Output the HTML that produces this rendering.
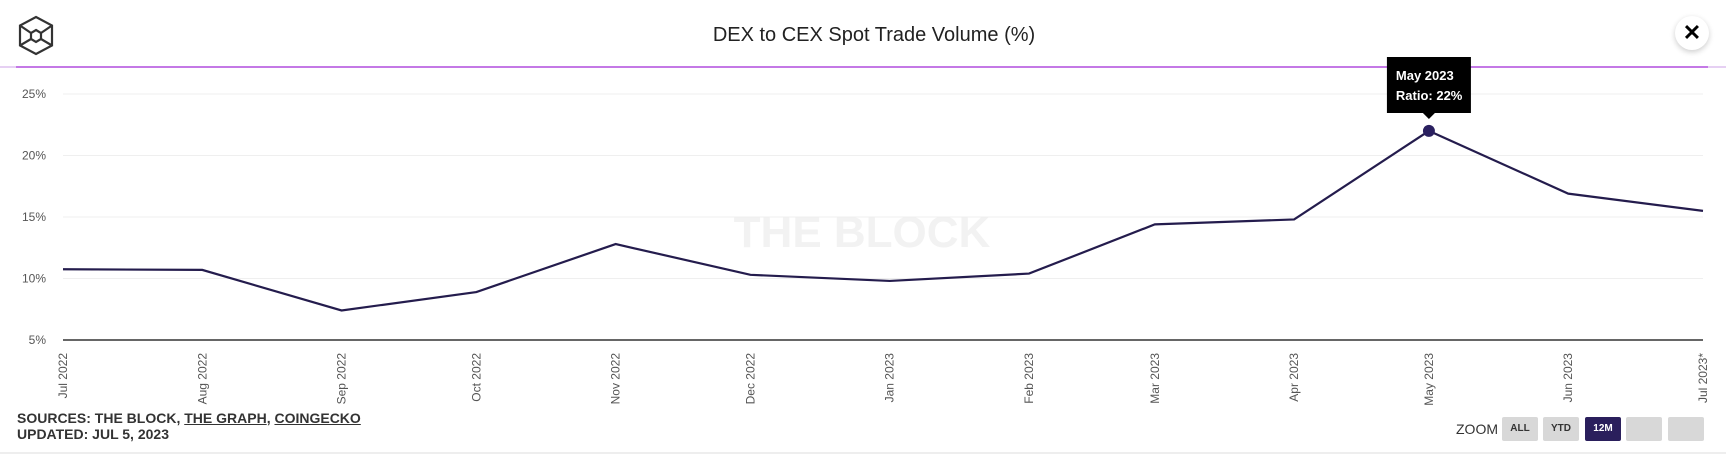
<!DOCTYPE html>
<html><head><meta charset="utf-8">
<style>
body{margin:0;width:1726px;height:455px;background:#fff;overflow:hidden;font-family:"Liberation Sans",Arial,sans-serif;position:relative}
.abs{position:absolute}
.btn{position:absolute;top:417px;width:36px;height:24px;background:#d8d8d8;border-radius:2px;font-size:10px;font-weight:bold;color:#333;text-align:center;line-height:24px}
</style></head><body>
<svg class="abs" style="left:14px;top:14px" width="44" height="44" viewBox="0 0 44 44">
<g fill="none" stroke="#333" stroke-width="2.2">
<polygon points="22,3 38,11.5 38,31.5 22,40 6,31.5 6,11.5"/>
<polygon points="22,16 27,19 27,25 22,28 17,25 17,19"/>
<line x1="6" y1="11.5" x2="17" y2="19"/><line x1="38" y1="11.5" x2="27" y2="19"/>
<line x1="6" y1="31.5" x2="17" y2="25"/><line x1="38" y1="31.5" x2="27" y2="25"/>
</g></svg>
<div class="abs" style="left:0;width:1748px;top:24px;text-align:center;font-size:20px;color:#222">DEX to CEX Spot Trade Volume (%)</div>
<div class="abs" style="left:1675px;top:16px;width:34px;height:34px;border-radius:50%;background:#fff;box-shadow:0 2px 6px rgba(0,0,0,.2);text-align:center;line-height:34px;font-size:22px;font-weight:bold;color:#000">✕</div>
<div class="abs" style="left:0;top:66px;width:1726px;height:2px;background:#e6d0f3"></div>
<div class="abs" style="left:16px;top:66px;width:1692px;height:2px;background:#c479e6"></div>
<svg id="chart" class="abs" style="left:0;top:0" width="1726" height="455"></svg>
<div class="abs" style="left:17px;top:410px;font-size:14px;font-weight:bold;color:#333;line-height:16px">SOURCES: THE BLOCK, <u>THE GRAPH</u>, <u>COINGECKO</u><br>UPDATED: JUL 5, 2023</div>
<div class="abs" style="left:1456px;top:421px;font-size:14px;color:#333">ZOOM</div>
<div class="btn" style="left:1502px">ALL</div>
<div class="btn" style="left:1543px">YTD</div>
<div class="btn" style="left:1585px;background:#2a1f5c;color:#fff">12M</div>
<div class="btn" style="left:1626px"></div>
<div class="btn" style="left:1668px"></div>
<div class="abs" style="left:0;top:452px;width:1726px;height:2px;background:#eee"></div>
<script>
const categories=["Jul 2022","Aug 2022","Sep 2022","Oct 2022","Nov 2022","Dec 2022","Jan 2023","Feb 2023","Mar 2023","Apr 2023","May 2023","Jun 2023","Jul 2023*"];
const dayOffsets=[0,31,62,92,123,153,184,215,243,274,304,335,365];
const ratioValues=[10.75,10.7,7.4,8.9,12.8,10.3,9.8,10.4,14.4,14.8,22,16.9,15.5];
const yTicks=[5,10,15,20,25];
const highlightIndex=10;
const NS="http://www.w3.org/2000/svg";
const svg=document.getElementById('chart');
const X0=63,X1=1703,Y5=340,Y25=94;
const xs=d=>X0+d/365*(X1-X0);
const ys=v=>Y5-(v-5)/20*(Y5-Y25);
function mk(t,a){const e=document.createElementNS(NS,t);for(const k in a)e.setAttribute(k,a[k]);svg.appendChild(e);return e;}
const wm=mk('text',{x:862,y:247,'text-anchor':'middle','font-size':'44','font-weight':'bold',fill:'#f2f2f2','font-family':'Liberation Sans'});
wm.textContent='THE BLOCK';


yTicks.forEach(v=>{
  const l=mk('line',{x1:X0,x2:X1,y1:ys(v),y2:ys(v),stroke:v===5?'#333':'#efefef','stroke-width':v===5?1.5:1});
  
  
  const t=mk('text',{x:46,y:ys(v)+4,'text-anchor':'end','font-size':'12',fill:'#555','font-family':'Liberation Sans'});
  t.textContent=v+'%';
  
  
});
categories.forEach((c,i)=>{
  const x=xs(dayOffsets[i]);
  const t=mk('text',{x:0,y:0,transform:`translate(${x+4},353) rotate(-90)`,'text-anchor':'end','font-size':'12',fill:'#555','font-family':'Liberation Sans'});
  t.textContent=c;
  
  
});
const pts=ratioValues.map((v,i)=>xs(dayOffsets[i])+','+ys(v)).join(' ');
const pl=mk('polyline',{points:pts,fill:'none',stroke:'#241c4d','stroke-width':2.2});


const hx=xs(dayOffsets[highlightIndex]),hy=ys(ratioValues[highlightIndex]);
const pt=mk('circle',{cx:hx,cy:hy,r:6,fill:'#2a2060'});


const tb=mk('path',{d:`M${hx-42},57 h84 v56 h-36 l-6,6 l-6,-6 h-36 z`,fill:'#000'});


const t1=mk('text',{x:hx-33,y:80,'font-size':'13','font-weight':'bold',fill:'#fff','font-family':'Liberation Sans'});
t1.textContent=categories[highlightIndex];


const t2=mk('text',{x:hx-33,y:100,'font-size':'13','font-weight':'bold',fill:'#fff','font-family':'Liberation Sans'});
t2.textContent='Ratio: '+ratioValues[highlightIndex]+'%';


</script>
</body></html>
